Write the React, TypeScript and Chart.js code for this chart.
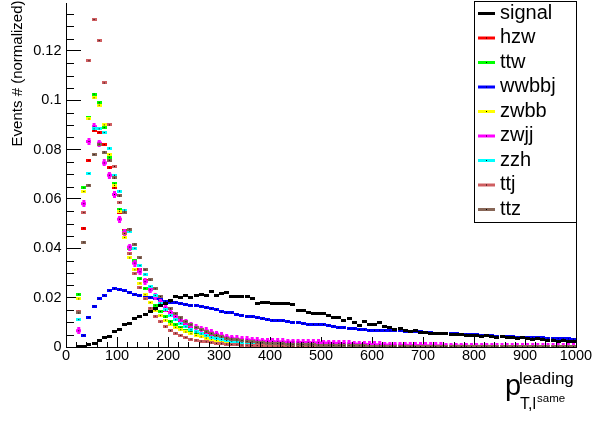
import React, { useEffect, useRef } from 'react';
import { Chart, registerables } from 'chart.js';

Chart.register(...registerables);

const FONT = '"Liberation Sans", Arial, Helvetica, sans-serif';

const BIN_CENTERS = [
  25, 35, 45, 55, 65, 75, 85, 95, 105, 115,
  125, 135, 145, 155, 165, 175, 185, 195, 205, 215,
  225, 235, 245, 255, 265, 275, 285, 295, 305, 315,
  325, 335, 345, 355, 365, 375, 385, 395, 405, 415,
  425, 435, 445, 455, 465, 475, 485, 495, 505, 515,
  525, 535, 545, 555, 565, 575, 585, 595, 605, 615,
  625, 635, 645, 655, 665, 675, 685, 695, 705, 715,
  725, 735, 745, 755, 765, 775, 785, 795, 805, 815,
  825, 835, 845, 855, 865, 875, 885, 895, 905, 915,
  925, 935, 945, 955, 965, 975, 985, 995,
];

const SIGNAL = [
  0.0001, 0.0004, 0.0010, 0.0015, 0.0025, 0.0037, 0.0044, 0.0062, 0.0071, 0.0093,
  0.0095, 0.0114, 0.0123, 0.0133, 0.0145, 0.0155, 0.0169, 0.0178, 0.0190, 0.0205,
  0.0202, 0.0208, 0.0202, 0.0208, 0.0212, 0.0209, 0.0223, 0.0209, 0.0216, 0.0219,
  0.0203, 0.0203, 0.0205, 0.0203, 0.0196, 0.0176, 0.0182, 0.0181, 0.0178, 0.0176,
  0.0176, 0.0176, 0.0172, 0.0149, 0.0147, 0.0138, 0.0136, 0.0136, 0.0136, 0.0128,
  0.0120, 0.0120, 0.0109, 0.0114, 0.0101, 0.0087, 0.0102, 0.0093, 0.0090, 0.0098,
  0.0082, 0.0078, 0.0072, 0.0075, 0.0066, 0.0062, 0.0066, 0.0059, 0.0058, 0.0055,
  0.0056, 0.0055, 0.0053, 0.0052, 0.0050, 0.0049, 0.0047, 0.0048, 0.0046, 0.0044,
  0.0045, 0.0042, 0.0040, 0.0041, 0.0038, 0.0039, 0.0036, 0.0037, 0.0034, 0.0030,
  0.0033, 0.0029, 0.0026, 0.0028, 0.0024, 0.0025, 0.0022, 0.0021,
];

const HZW = [
  0.0142, 0.0482, 0.0757, 0.0877, 0.0870, 0.0820, 0.0726, 0.0645, 0.0545, 0.0474,
  0.0400, 0.0350, 0.0313, 0.0270, 0.0232, 0.0198, 0.0172, 0.0148, 0.0128, 0.0112,
  0.0098, 0.0086, 0.0074, 0.0064, 0.0056, 0.0050, 0.0044, 0.0039, 0.0034, 0.0030,
  0.0027, 0.0024, 0.0021, 0.0019, 0.0017, 0.0015, 0.0013, 0.0012, 0.0011, 0.0010,
  0.0009, 0.0008, 0.0008, 0.0007, 0.0006, 0.0006, 0.0005, 0.0005, 0.0004, 0.0004,
  0.0004, 0.0003, 0.0003, 0.0003, 0.0003, 0.0002, 0.0002, 0.0002, 0.0002, 0.0002,
  0.0002, 0.0001, 0.0001, 0.0002, 0.0001, 0.0001, 0.0001, 0.0001, 0.0001, 0.0001,
  0.0001, 0.0001, 0.0001, 0.0001, 0.0001, 0.0001, 0.0000, 0.0001, 0.0000, 0.0000,
  0.0001, 0.0000, 0.0000, 0.0000, 0.0001, 0.0000, 0.0000, 0.0000, 0.0000, 0.0000,
  0.0000, 0.0000, 0.0000, 0.0001, 0.0000, 0.0000, 0.0000, 0.0000,
];

const TTW = [
  0.0214, 0.0645, 0.0930, 0.1025, 0.0990, 0.0889, 0.0769, 0.0661, 0.0558, 0.0470,
  0.0400, 0.0350, 0.0276, 0.0238, 0.0200, 0.0169, 0.0144, 0.0122, 0.0104, 0.0090,
  0.0078, 0.0068, 0.0062, 0.0054, 0.0047, 0.0041, 0.0036, 0.0031, 0.0026, 0.0021,
  0.0019, 0.0017, 0.0015, 0.0013, 0.0012, 0.0011, 0.0010, 0.0009, 0.0008, 0.0008,
  0.0007, 0.0006, 0.0006, 0.0005, 0.0005, 0.0004, 0.0004, 0.0004, 0.0003, 0.0003,
  0.0003, 0.0003, 0.0002, 0.0002, 0.0002, 0.0002, 0.0002, 0.0002, 0.0001, 0.0001,
  0.0001, 0.0001, 0.0001, 0.0001, 0.0001, 0.0001, 0.0001, 0.0001, 0.0001, 0.0001,
  0.0001, 0.0001, 0.0001, 0.0001, 0.0000, 0.0001, 0.0000, 0.0000, 0.0001, 0.0000,
  0.0000, 0.0000, 0.0000, 0.0000, 0.0000, 0.0000, 0.0000, 0.0000, 0.0000, 0.0000,
  0.0000, 0.0000, 0.0000, 0.0000, 0.0000, 0.0000, 0.0000, 0.0000,
];

const WWBBJ = [
  null, 0.0047, 0.0120, 0.0166, 0.0196, 0.0209, 0.0229, 0.0236, 0.0233, 0.0227,
  0.0220, 0.0213, 0.0209, 0.0202, 0.0200, 0.0196, 0.0192, 0.0186, 0.0182, 0.0182,
  0.0176, 0.0173, 0.0169, 0.0168, 0.0165, 0.0160, 0.0156, 0.0152, 0.0142, 0.0140,
  0.0138, 0.0133, 0.0129, 0.0125, 0.0122, 0.0118, 0.0115, 0.0111, 0.0109, 0.0108,
  0.0106, 0.0105, 0.0101, 0.0099, 0.0095, 0.0091, 0.0092, 0.0093, 0.0091, 0.0089,
  0.0085, 0.0079, 0.0078, 0.0075, 0.0073, 0.0071, 0.0070, 0.0068, 0.0068, 0.0068,
  0.0067, 0.0066, 0.0066, 0.0066, 0.0064, 0.0062, 0.0063, 0.0062, 0.0060, 0.0058,
  0.0056, 0.0055, 0.0055, 0.0054, 0.0053, 0.0052, 0.0052, 0.0051, 0.0050, 0.0048,
  0.0047, 0.0046, 0.0044, 0.0042, 0.0041, 0.0041, 0.0040, 0.0040, 0.0039, 0.0039,
  0.0039, 0.0037, 0.0036, 0.0035, 0.0034, 0.0033, 0.0033, 0.0032,
];

const ZWBB = [
  0.0195, 0.0630, 0.0924, 0.1010, 0.0980, 0.0900, 0.0780, 0.0655, 0.0550, 0.0444,
  0.0361, 0.0313, 0.0259, 0.0212, 0.0180, 0.0149, 0.0127, 0.0109, 0.0093, 0.0080,
  0.0070, 0.0061, 0.0054, 0.0047, 0.0041, 0.0036, 0.0032, 0.0028, 0.0025, 0.0022,
  0.0020, 0.0018, 0.0016, 0.0014, 0.0013, 0.0012, 0.0011, 0.0010, 0.0009, 0.0008,
  0.0008, 0.0007, 0.0006, 0.0006, 0.0005, 0.0005, 0.0004, 0.0004, 0.0004, 0.0003,
  0.0003, 0.0003, 0.0003, 0.0002, 0.0002, 0.0002, 0.0002, 0.0002, 0.0002, 0.0001,
  0.0001, 0.0001, 0.0001, 0.0001, 0.0001, 0.0001, 0.0001, 0.0001, 0.0001, 0.0001,
  0.0001, 0.0000, 0.0001, 0.0000, 0.0000, 0.0001, 0.0000, 0.0000, 0.0000, 0.0000,
  0.0000, 0.0000, 0.0000, 0.0000, 0.0000, 0.0000, 0.0000, 0.0000, 0.0000, 0.0000,
  0.0000, 0.0000, 0.0000, 0.0000, 0.0000, 0.0000, 0.0000, 0.0000,
];

const ZWJJ = [
  0.0066, 0.0581, 0.0833, 0.0893, 0.0826, 0.0746, 0.0696, 0.0618, 0.0518, 0.0464,
  0.0405, 0.0340, 0.0305, 0.0265, 0.0232, 0.0205, 0.0180, 0.0158, 0.0140, 0.0124,
  0.0110, 0.0098, 0.0087, 0.0080, 0.0072, 0.0065, 0.0058, 0.0052, 0.0045, 0.0040,
  0.0036, 0.0033, 0.0031, 0.0029, 0.0027, 0.0025, 0.0024, 0.0023, 0.0022, 0.0021,
  0.0021, 0.0020, 0.0020, 0.0019, 0.0018, 0.0018, 0.0017, 0.0017, 0.0016, 0.0016,
  0.0015, 0.0015, 0.0014, 0.0013, 0.0012, 0.0011, 0.0011, 0.0010, 0.0009, 0.0009,
  0.0008, 0.0008, 0.0007, 0.0007, 0.0007, 0.0006, 0.0006, 0.0006, 0.0005, 0.0005,
  0.0005, 0.0005, 0.0004, 0.0004, 0.0004, 0.0004, 0.0003, 0.0003, 0.0003, 0.0003,
  0.0003, 0.0003, 0.0002, 0.0002, 0.0002, 0.0002, 0.0002, 0.0002, 0.0002, 0.0002,
  0.0001, 0.0002, 0.0001, 0.0001, 0.0001, 0.0001, 0.0001, 0.0001,
];

const ZZH = [
  0.0111, 0.0424, 0.0703, 0.0884, 0.0884, 0.0869, 0.0806, 0.0696, 0.0632, 0.0555,
  0.0470, 0.0400, 0.0330, 0.0295, 0.0245, 0.0209, 0.0178, 0.0150, 0.0128, 0.0110,
  0.0095, 0.0082, 0.0070, 0.0061, 0.0053, 0.0046, 0.0040, 0.0035, 0.0031, 0.0027,
  0.0024, 0.0021, 0.0019, 0.0017, 0.0015, 0.0014, 0.0012, 0.0011, 0.0010, 0.0009,
  0.0009, 0.0008, 0.0007, 0.0007, 0.0006, 0.0006, 0.0005, 0.0005, 0.0004, 0.0004,
  0.0004, 0.0003, 0.0003, 0.0003, 0.0003, 0.0002, 0.0002, 0.0002, 0.0002, 0.0002,
  0.0002, 0.0001, 0.0001, 0.0001, 0.0001, 0.0001, 0.0001, 0.0001, 0.0001, 0.0001,
  0.0001, 0.0001, 0.0000, 0.0001, 0.0000, 0.0000, 0.0000, 0.0001, 0.0000, 0.0000,
  0.0000, 0.0000, 0.0000, 0.0000, 0.0000, 0.0000, 0.0000, 0.0000, 0.0000, 0.0000,
  0.0000, 0.0000, 0.0000, 0.0000, 0.0000, 0.0000, 0.0000, 0.0000,
];

const TTJ = [
  0.0145, 0.0545, 0.1160, 0.1327, 0.1242, 0.1070, 0.0900, 0.0732, 0.0585, 0.0460,
  0.0377, 0.0297, 0.0240, 0.0195, 0.0158, 0.0125, 0.0102, 0.0082, 0.0066, 0.0056,
  0.0047, 0.0038, 0.0032, 0.0028, 0.0024, 0.0021, 0.0017, 0.0015, 0.0013, 0.0012,
  0.0010, 0.0009, 0.0008, 0.0007, 0.0006, 0.0006, 0.0005, 0.0004, 0.0004, 0.0004,
  0.0003, 0.0003, 0.0003, 0.0002, 0.0002, 0.0002, 0.0002, 0.0001, 0.0001, 0.0001,
  0.0001, 0.0001, 0.0001, 0.0001, 0.0001, 0.0000, 0.0001, 0.0000, 0.0000, 0.0000,
  0.0000, 0.0000, 0.0000, 0.0000, 0.0000, 0.0000, 0.0000, 0.0000, 0.0000, 0.0000,
  0.0000, 0.0000, 0.0000, 0.0000, 0.0000, 0.0000, 0.0000, 0.0000, 0.0000, 0.0000,
  0.0000, 0.0000, 0.0000, 0.0000, 0.0000, 0.0000, 0.0000, 0.0000, 0.0000, 0.0000,
  0.0000, 0.0000, 0.0000, 0.0000, 0.0000, 0.0000, 0.0000, 0.0000,
];

const TTZ = [
  0.0138, 0.0425, 0.0656, 0.0780, 0.0822, 0.0790, 0.0757, 0.0685, 0.0612, 0.0547,
  0.0478, 0.0417, 0.0361, 0.0313, 0.0272, 0.0236, 0.0205, 0.0178, 0.0155, 0.0135,
  0.0118, 0.0103, 0.0090, 0.0079, 0.0069, 0.0061, 0.0054, 0.0047, 0.0041, 0.0036,
  0.0032, 0.0029, 0.0026, 0.0023, 0.0021, 0.0019, 0.0017, 0.0016, 0.0015, 0.0014,
  0.0013, 0.0012, 0.0011, 0.0011, 0.0010, 0.0009, 0.0009, 0.0008, 0.0008, 0.0007,
  0.0007, 0.0006, 0.0006, 0.0006, 0.0005, 0.0005, 0.0005, 0.0004, 0.0004, 0.0004,
  0.0004, 0.0003, 0.0003, 0.0003, 0.0003, 0.0003, 0.0002, 0.0002, 0.0002, 0.0002,
  0.0002, 0.0002, 0.0002, 0.0002, 0.0001, 0.0002, 0.0001, 0.0001, 0.0001, 0.0001,
  0.0001, 0.0001, 0.0001, 0.0001, 0.0001, 0.0001, 0.0001, 0.0001, 0.0001, 0.0001,
  0.0001, 0.0001, 0.0001, 0.0001, 0.0001, 0.0001, 0.0001, 0.0001,
];

const SERIES_NAMES = ['signal', 'hzw', 'ttw', 'wwbbj', 'zwbb', 'zwjj', 'zzh', 'ttj', 'ttz'];
const SERIES_VALUES = [SIGNAL, HZW, TTW, WWBBJ, ZWBB, ZWJJ, ZZH, TTJ, TTZ];
const SERIES_COLORS = ['#000000', '#ff0000', '#00ff00', '#0000ff', '#ffff00', '#ff00ff', '#00ffff', '#cf5e61', '#876657'];
const SERIES_ERR_H = [3, 3, 3, 3, 3, 7, 3, 3, 3];
// drawing order (higher = drawn earlier / underneath)
const SERIES_ORDER = [1, 9, 8, 7, 6, 5, 4, 3, 2];

const X_TICKS = [0, 100, 200, 300, 400, 500, 600, 700, 800, 900, 1000];
const X_MINOR = [
  20, 40, 60, 80, 120, 140, 160, 180, 220, 240, 260, 280, 320, 340, 360, 380,
  420, 440, 460, 480, 520, 540, 560, 580, 620, 640, 660, 680, 720, 740, 760, 780,
  820, 840, 860, 880, 920, 940, 960, 980,
];
const Y_TICKS = [0, 0.02, 0.04, 0.06, 0.08, 0.1, 0.12];
const Y_MINOR = [
  0.005, 0.01, 0.015, 0.025, 0.03, 0.035, 0.045, 0.05, 0.055, 0.065, 0.07, 0.075,
  0.085, 0.09, 0.095, 0.105, 0.11, 0.115, 0.125, 0.13, 0.135,
];
const X_MAX = 1000;
const Y_MAX = 0.1394;

const Y_TITLE = 'Events # (normalized)';

function makeMarker(color: string, vh: number): HTMLCanvasElement {
  const w = 5;
  const h = Math.max(3, vh);
  const c = document.createElement('canvas');
  c.width = w;
  c.height = h;
  const g = c.getContext('2d')!;
  g.fillStyle = color;
  g.fillRect(0, (h - 3) / 2, w, 3);
  if (vh > 3) g.fillRect(1, 0, 3, h);
  g.fillStyle = '#000';
  g.fillRect(2, (h - 1) / 2, 1, 1);
  return c;
}

const decorPlugin = {
  id: 'rootDecor',
  afterDraw(chart: any) {
    const ctx = chart.ctx as CanvasRenderingContext2D;
    const area = chart.chartArea;
    const xs = chart.scales.x;
    const ys = chart.scales.y;
    ctx.save();
    ctx.strokeStyle = '#000';
    ctx.lineWidth = 1;
    // minor ticks
    ctx.beginPath();
    X_MINOR.forEach((v) => {
      const px = Math.round(xs.getPixelForValue(v)) + 0.5;
      ctx.moveTo(px, area.bottom);
      ctx.lineTo(px, area.bottom - 5);
    });
    Y_MINOR.forEach((v) => {
      const py = Math.round(ys.getPixelForValue(v)) + 0.5;
      ctx.moveTo(area.left, py);
      ctx.lineTo(area.left + 8, py);
    });
    // right frame
    ctx.moveTo(Math.round(area.right) + 0.5, area.top);
    ctx.lineTo(Math.round(area.right) + 0.5, area.bottom);
    ctx.stroke();

    // legend box
    const lx = 474.5, ly = 1.5, lw = 102, lh = 221;
    ctx.fillStyle = '#fff';
    ctx.fillRect(lx, ly, lw, lh);
    ctx.strokeRect(lx, ly, lw, lh);
    ctx.font = `20px ${FONT}`;
    ctx.textBaseline = 'alphabetic';
    ctx.textAlign = 'left';
    SERIES_NAMES.forEach((name, i) => {
      const y = 13.5 + 24.5 * i;
      ctx.strokeStyle = SERIES_COLORS[i];
      ctx.lineWidth = 3;
      ctx.beginPath();
      ctx.moveTo(478, y);
      ctx.lineTo(495, y);
      ctx.stroke();
      ctx.fillStyle = '#000';
      ctx.fillRect(486, y - 0.5, 1, 1);
      ctx.fillText(name, 500, y + 5);
    });

    // y title
    ctx.save();
    ctx.translate(21.5, 0.5);
    ctx.rotate(-Math.PI / 2);
    ctx.font = `15px ${FONT}`;
    ctx.textAlign = 'right';
    ctx.textBaseline = 'alphabetic';
    ctx.fillStyle = '#000';
    ctx.fillText(Y_TITLE, 0, 0);
    ctx.restore();

    // x title: p_{T,l^{same}}^{leading}
    ctx.fillStyle = '#000';
    ctx.textAlign = 'left';
    ctx.font = `29px ${FONT}`;
    ctx.fillText('p', 505, 395);
    ctx.font = `17px ${FONT}`;
    ctx.fillText('leading', 519, 384);
    ctx.font = `16px ${FONT}`;
    ctx.fillText('T,l', 520, 409);
    ctx.font = `11.5px ${FONT}`;
    ctx.fillText('same', 537, 401.5);
    ctx.restore();
  },
};

export default function App() {
  const canvasRef = useRef<HTMLCanvasElement | null>(null);

  useEffect(() => {
    const canvas = canvasRef.current;
    if (!canvas) return;
    const datasets = SERIES_NAMES.map((name, i) => ({
      label: name,
      data: BIN_CENTERS.map((x, j) => ({ x, y: SERIES_VALUES[i][j] })),
      pointStyle: makeMarker(SERIES_COLORS[i], SERIES_ERR_H[i]),
      pointRadius: 2,
      pointHoverRadius: 2,
      showLine: false,
      borderColor: SERIES_COLORS[i],
      backgroundColor: SERIES_COLORS[i],
      order: SERIES_ORDER[i],
    }));
    const chart = new Chart(canvas, {
      type: 'scatter',
      data: { datasets },
      plugins: [decorPlugin],
      options: {
        animation: false,
        responsive: false,
        maintainAspectRatio: false,
        devicePixelRatio: 1,
        events: [],
        layout: { padding: { left: 0, right: 17, top: 0, bottom: 0 } },
        plugins: {
          legend: { display: false },
          tooltip: { enabled: false },
          title: { display: false },
        },
        scales: {
          x: {
            type: 'linear',
            min: 0,
            max: X_MAX,
            afterFit: (s: any) => { s.height = 74; s.paddingLeft = 0; s.paddingRight = 0; },
            afterBuildTicks: (s: any) => { s.ticks = X_TICKS.map((v) => ({ value: v })); },
            grid: { drawOnChartArea: false, drawTicks: true, tickLength: -10, tickColor: '#000', tickWidth: 1 },
            border: { display: true, color: '#000', width: 1 },
            ticks: {
              autoSkip: false,
              maxRotation: 0,
              padding: 10.5,
              color: '#000',
              font: { family: FONT, size: 14.5 },
              callback: (v: any) => String(v),
            },
          },
          y: {
            type: 'linear',
            min: 0,
            max: Y_MAX,
            afterFit: (s: any) => { s.width = 66; s.paddingTop = 0; s.paddingBottom = 0; },
            afterBuildTicks: (s: any) => { s.ticks = Y_TICKS.map((v) => ({ value: v })); },
            grid: { drawOnChartArea: false, drawTicks: true, tickLength: -15, tickColor: '#000', tickWidth: 1 },
            border: { display: true, color: '#000', width: 1 },
            ticks: {
              autoSkip: false,
              padding: 19.5,
              color: '#000',
              font: { family: FONT, size: 14.5 },
              callback: (v: any) => String(v),
            },
          },
        },
      } as any,
    });
    return () => chart.destroy();
  }, []);

  return (
    <div style={{ position: 'absolute', left: 0, top: 0, width: 593, height: 421, background: '#fff' }}>
      <canvas ref={canvasRef} width={593} height={421} style={{ display: 'block', width: 593, height: 421 }} />
    </div>
  );
}
